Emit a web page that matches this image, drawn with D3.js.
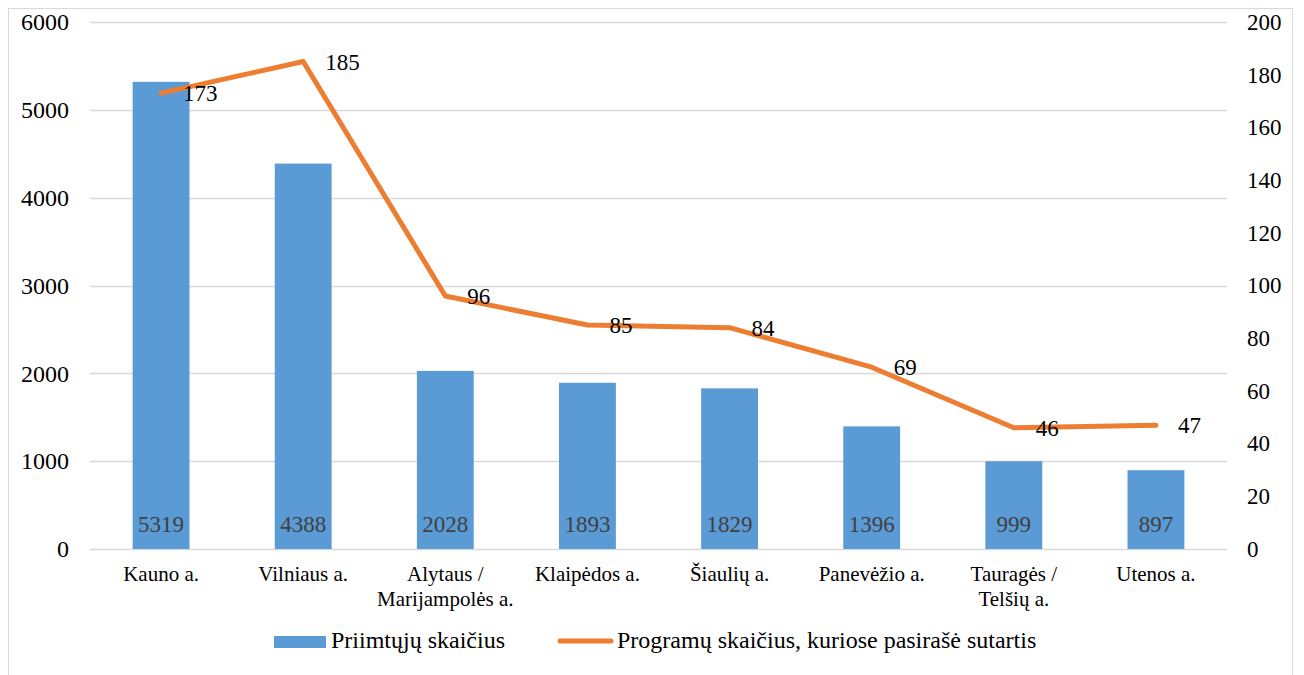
<!DOCTYPE html>
<html><head><meta charset="utf-8">
<script src="https://cdn.jsdelivr.net/npm/d3@7"></script>
<style>body{margin:0;background:#fff}svg{display:block}svg text{font-family:"Liberation Serif","Times New Roman",serif}</style>
</head><body><svg id="c" width="1304" height="675"></svg>
<script>
const categories = [["Kauno a."],["Vilniaus a."],["Alytaus /","Marijampolės a."],["Klaipėdos a."],["Šiaulių a."],["Panevėžio a."],["Tauragės /","Telšių a."],["Utenos a."]];
const admitted = [5319, 4388, 2028, 1893, 1829, 1396, 999, 897];
const programs = [173, 185, 96, 85, 84, 69, 46, 47];
const leftTicks = [0,1000,2000,3000,4000,5000,6000];
const rightTicks = [0,20,40,60,80,100,120,140,160,180,200];
const seriesNames = ["Priimtųjų skaičius","Programų skaičius, kuriose pasirašė sutartis"];

const FONT = "Liberation Serif, Times New Roman, serif";
const svg = d3.select("#c").attr("font-family",FONT);
const W=1304,H=675;
const m={l:90,r:1227,t:22,b:549};
svg.append("rect").attr("x",8.5).attr("y",8.5).attr("width",1284).attr("height",H).attr("fill","none").attr("stroke","#D9D9D9").attr("stroke-width",1);

const x = d3.scaleBand().domain(d3.range(categories.length)).range([m.l,m.r]).paddingInner(0.6).paddingOuter(0.3);
const yL = d3.scaleLinear().domain([0,6000]).range([m.b,m.t]);
const yR = d3.scaleLinear().domain([0,200]).range([m.b,m.t]);
const xc = i => x(i)+x.bandwidth()/2;

// gridlines
svg.append("g").selectAll("line").data(leftTicks).join("line")
  .attr("x1",m.l).attr("x2",m.r).attr("y1",d=>Math.round(yL(d))+0.5).attr("y2",d=>Math.round(yL(d))+0.5)
  .attr("stroke","#D9D9D9").attr("stroke-width",1.3);

// left axis
const axL = d3.axisLeft(yL).tickValues(leftTicks).tickFormat(d3.format("d")).tickSize(0).tickPadding(0);
const gL = svg.append("g").attr("transform",`translate(69,0)`).call(axL).attr("font-family",FONT);
gL.select(".domain").remove();
gL.selectAll("text").attr("font-size",24).attr("font-family",FONT).attr("fill","#000");

const axR = d3.axisRight(yR).tickValues(rightTicks).tickFormat(d3.format("d")).tickSize(0).tickPadding(0);
const gR = svg.append("g").attr("transform",`translate(1247,0)`).call(axR).attr("font-family",FONT);
gR.select(".domain").remove();
gR.selectAll("text").attr("font-size",23).attr("font-family",FONT).attr("fill","#000");

// bars
svg.append("g").selectAll("rect").data(admitted).join("rect")
  .attr("x",(d,i)=>x(i)).attr("width",x.bandwidth())
  .attr("y",d=>yL(d)).attr("height",d=>yL(0)-yL(d)).attr("fill","#5B9BD5");

// bar labels
svg.append("g").selectAll("text").data(admitted).join("text")
  .attr("x",(d,i)=>xc(i)).attr("y",532).attr("text-anchor","middle").attr("font-family",FONT)
  .attr("font-size",23).attr("fill","#404040").text(d=>d);

// line
const line = d3.line().x((d,i)=>xc(i)).y(d=>yR(d));
svg.append("path").datum(programs).attr("d",line).attr("fill","none")
  .attr("stroke","#ED7D31").attr("stroke-width",5).attr("stroke-linejoin","round").attr("stroke-linecap","round");

svg.append("g").selectAll("text").data(programs).join("text")
  .attr("x",(d,i)=>xc(i)+22).attr("y",d=>yR(d)).attr("dy","0.35em").attr("font-family",FONT)
  .attr("font-size",23).attr("fill","#000").text(d=>d);

// category labels
const cg = svg.append("g").selectAll("text").data(categories).join("text")
  .attr("x",(d,i)=>xc(i)).attr("y",581).attr("text-anchor","middle").attr("font-size",21).attr("font-family",FONT).attr("fill","#000");
cg.selectAll("tspan").data(d=>d).join("tspan").attr("x",function(){return this.parentNode.getAttribute("x");})
  .attr("dy",(d,j)=>j?25:0).text(d=>d);

// legend
const lg = svg.append("g").attr("font-family",FONT);
lg.append("rect").attr("x",274).attr("y",636).attr("width",52).attr("height",12).attr("fill","#5B9BD5");
lg.append("text").attr("x",331).attr("y",648).attr("font-size",24).text(seriesNames[0]);
lg.append("line").attr("x1",560).attr("x2",611).attr("y1",641).attr("y2",641).attr("stroke","#ED7D31").attr("stroke-width",5).attr("stroke-linecap","round");
lg.append("text").attr("x",617).attr("y",648).attr("font-size",24).text(seriesNames[1]);
</script></body></html>
